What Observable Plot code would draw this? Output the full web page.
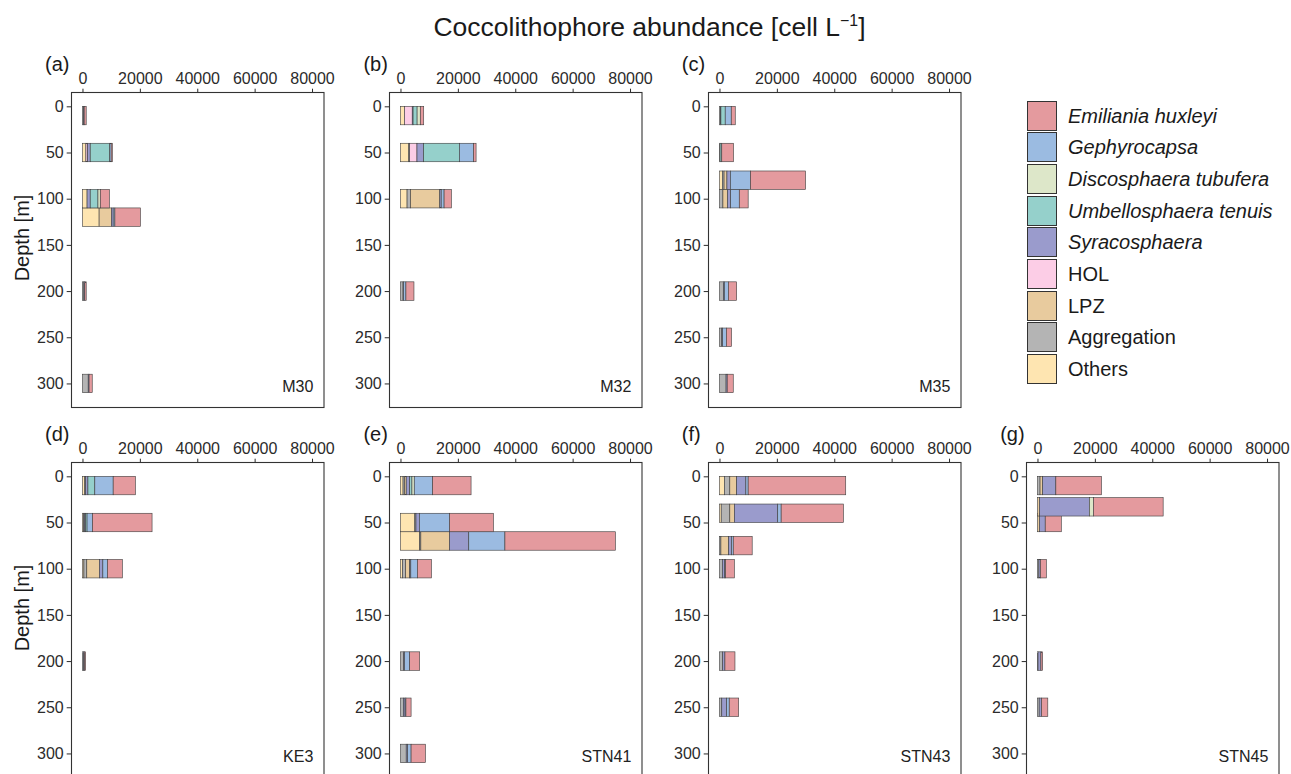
<!DOCTYPE html>
<html>
<head>
<meta charset="utf-8">
<script src="https://cdn.jsdelivr.net/npm/d3@7"></script>
<script src="https://cdn.jsdelivr.net/npm/@observablehq/plot@0.6"></script>
<style>
  html, body { margin: 0; padding: 0; overflow: hidden; background: #fff; }
  #chart { position: relative; width: 1291px; height: 774px; overflow: hidden;
           font-family: Arial, "Liberation Sans", sans-serif; color: #1a1a1a; }
  .abs { position: absolute; white-space: nowrap; line-height: 1; }
</style>
</head>
<body>
<div id="chart"></div>
<script>
// Taxa in legend order, with their fills
const taxa = ["Emiliania huxleyi", "Gephyrocapsa", "Discosphaera tubufera", "Umbellosphaera tenuis",
              "Syracosphaera", "HOL", "LPZ", "Aggregation", "Others"];
const taxonColors = ["#E49A9E", "#9BBBE1", "#DDE7C9", "#95D0CB", "#9A9BCC", "#FCCDE6", "#E8CB9E", "#B4B4B4", "#FEE5B1"];
const italicTaxa = ["Emiliania huxleyi", "Gephyrocapsa", "Discosphaera tubufera", "Umbellosphaera tenuis", "Syracosphaera"];
// Bars stack outward from zero: Others first, E. huxleyi last
const stackOrder = taxa.slice().reverse();

const stations = ["M30", "M32", "M35", "KE3", "STN41", "STN43", "STN45"];
const panelTags = ["(a)", "(b)", "(c)", "(d)", "(e)", "(f)", "(g)"];
const depthTicks = [0, 50, 100, 150, 200, 250, 300];
const abundanceTicks = [0, 20000, 40000, 60000, 80000];

// Sample depths [m] and abundances [cell L-1]; columns follow stackOrder:
// Others, Aggregation, LPZ, HOL, Syracosphaera, Umbellosphaera, Discosphaera, Gephyrocapsa, E. huxleyi
const depthsM30 = [10, 50, 100, 120, 200, 300];
const countsM30 = [
  [0, 400, 0, 0, 200, 0, 0, 0, 700],
  [1200, 0, 0, 600, 900, 6800, 0, 500, 400],
  [1600, 0, 0, 0, 1100, 2700, 800, 0, 3200],
  [5800, 0, 4300, 0, 600, 0, 0, 600, 8900],
  [0, 500, 0, 0, 300, 0, 0, 0, 500],
  [0, 2000, 0, 0, 300, 0, 0, 0, 1100]
];
const depthsM32 = [10, 50, 100, 200];
const countsM32 = [
  [1400, 0, 0, 2700, 300, 1400, 1100, 0, 1200],
  [2900, 300, 0, 2550, 2300, 12500, 0, 4900, 900],
  [2300, 1200, 10200, 0, 500, 0, 0, 1000, 2550],
  [0, 900, 0, 0, 200, 0, 0, 800, 2800]
];
const depthsM35 = [10, 50, 80, 100, 200, 250, 300];
const countsM35 = [
  [0, 300, 0, 0, 200, 1500, 0, 2100, 1400],
  [0, 200, 0, 0, 0, 600, 0, 0, 4100],
  [1000, 600, 1000, 0, 1200, 0, 0, 7000, 19200],
  [0, 1200, 1600, 0, 1100, 0, 0, 3000, 3100],
  [0, 1400, 0, 0, 300, 0, 0, 1400, 2900],
  [0, 800, 0, 0, 300, 0, 0, 1300, 1800],
  [0, 2300, 0, 0, 400, 0, 0, 0, 2100]
];
const depthsKE3 = [10, 50, 100, 200];
const countsKE3 = [
  [800, 300, 0, 0, 800, 2400, 0, 6400, 7750],
  [400, 300, 0, 0, 400, 500, 0, 1900, 20750],
  [500, 1000, 4400, 0, 1200, 0, 0, 1600, 5200],
  [0, 400, 0, 0, 300, 0, 0, 0, 400]
];
const depthsSTN41 = [10, 50, 70, 100, 200, 250, 300];
const countsSTN41 = [
  [900, 600, 500, 0, 1200, 800, 800, 6400, 13400],
  [5000, 400, 0, 0, 1200, 0, 0, 10500, 15300],
  [6700, 400, 10000, 0, 6700, 0, 0, 12600, 38500],
  [700, 1100, 1400, 0, 400, 0, 0, 2300, 4900],
  [0, 1100, 0, 0, 300, 0, 0, 1800, 3500],
  [0, 1000, 0, 0, 600, 0, 0, 300, 1800],
  [0, 2000, 0, 0, 500, 0, 0, 1200, 5000]
];
const depthsSTN43 = [10, 40, 75, 100, 200, 250];
const countsSTN43 = [
  [1700, 1900, 2400, 0, 3200, 0, 0, 800, 34000],
  [600, 3000, 1600, 0, 15100, 0, 0, 1200, 21700],
  [0, 500, 2700, 0, 1000, 0, 0, 600, 6600],
  [0, 1000, 0, 0, 800, 0, 0, 300, 3100],
  [0, 1100, 0, 0, 800, 0, 0, 0, 3500],
  [0, 800, 0, 0, 1700, 0, 0, 900, 3300]
];
const depthsSTN45 = [10, 33, 50, 100, 200, 250];
const countsSTN45 = [
  [0, 900, 900, 0, 4600, 0, 0, 0, 15900],
  [0, 0, 700, 0, 17400, 0, 1400, 0, 24300],
  [0, 0, 700, 0, 2000, 0, 0, 0, 5600],
  [0, 500, 0, 0, 500, 0, 0, 0, 2100],
  [0, 200, 0, 0, 1000, 0, 0, 0, 600],
  [0, 600, 0, 0, 800, 0, 0, 0, 2200]
];

const stationDepths = [depthsM30, depthsM32, depthsM35, depthsKE3, depthsSTN41, depthsSTN43, depthsSTN45];
const stationCounts = [countsM30, countsM32, countsM35, countsKE3, countsSTN41, countsSTN43, countsSTN45];

// Panel geometry (px)
const frameW = 252.5, frameH = 315;
const ML = 60, MR = 6, MT = 36, MB = 4;
const colLeft = [71, 389.4, 707.8, 1026.2];
const rowTop = [92.3, 462.3];
const slots = [[0, 0], [1, 0], [2, 0], [0, 1], [1, 1], [2, 1], [3, 1]];
const barHalf = 10; // each sample is drawn as a 20 m band

const chart = document.getElementById("chart");
const font = "Arial, 'Liberation Sans', sans-serif";

function addDiv(html, css) {
  const el = document.createElement("div");
  el.className = "abs";
  el.innerHTML = html;
  Object.assign(el.style, css);
  chart.appendChild(el);
  return el;
}

// Title
addDiv('Coccolithophore abundance [cell L<span style="font-size:0.6em;position:relative;top:-0.62em;">\u22121</span>]',
  {left: "649.5px", top: "13.5px", fontSize: "26.5px", transform: "translateX(-50%)"});

stations.forEach((name, k) => {
  const [c, r] = slots[k];
  const depths = stationDepths[k];
  const counts = stationCounts[k];
  const rows = [];
  depths.forEach((d, i) => {
    stackOrder.forEach((t, j) => {
      const v = counts[i][j];
      if (v > 0) rows.push({depth: d, taxon: t, value: v});
    });
  });
  // deeper samples first, so a shallower band sits on top where two bands meet
  rows.sort((a, b) => b.depth - a.depth);

  const plot = Plot.plot({
    width: frameW + ML + MR,
    height: frameH + MT + MB,
    marginLeft: ML, marginRight: MR, marginTop: MT, marginBottom: MB,
    style: {fontSize: "16px", fontFamily: font, color: "#2b2b2b", background: "transparent", overflow: "visible"},
    x: {domain: [-4000, 84000], axis: "top", ticks: abundanceTicks, tickFormat: d3.format("d"),
        tickSize: 4.3, tickPadding: 4.5, label: null},
    y: {domain: [-15.5, 325.5], reverse: true, ticks: depthTicks, tickSize: 4.3, tickPadding: 3.5, label: null},
    color: {domain: taxa, range: taxonColors},
    marks: [
      Plot.rectX(rows, {
        x: "value",
        y1: (d) => d.depth - barHalf,
        y2: (d) => d.depth + barHalf,
        fill: "taxon",
        stroke: "#3c3c3c",
        strokeWidth: 0.6
      }),
      Plot.frame({stroke: "#333", strokeWidth: 1.1}),
      Plot.text([name], {frameAnchor: "bottom-right", dx: -10.7, dy: -16, lineAnchor: "bottom",
                         fontSize: 16, fill: "#222"})
    ]
  });

  const wrap = document.createElement("div");
  wrap.style.position = "absolute";
  wrap.style.left = (colLeft[c] - ML) + "px";
  wrap.style.top = (rowTop[r] - MT) + "px";
  wrap.appendChild(plot);
  chart.appendChild(wrap);

  // panel tag
  addDiv(panelTags[k], {left: (colLeft[c] - 26) + "px", top: (rowTop[r] - 21.3 - 16.9) + "px", fontSize: "20px"});
  // depth axis title on the first column
  if (c === 0) {
    addDiv("Depth [m]", {left: "21.5px", top: (rowTop[r] + 145.5) + "px", fontSize: "20px",
      transform: "translate(-50%, -50%) rotate(-90deg)"});
  }
});

// Legend
taxa.forEach((t, i) => {
  const top = 100.7 + i * 31.66;
  addDiv("", {left: "1027px", top: top + "px", width: "30px", height: "30px", boxSizing: "border-box",
    border: "1px solid #333", background: taxonColors[i]});
  addDiv(t, {left: "1068px", top: top + "px", height: "30px", lineHeight: "30px", fontSize: "20px",
    fontStyle: italicTaxa.includes(t) ? "italic" : "normal"});
});
</script>
</body>
</html>
